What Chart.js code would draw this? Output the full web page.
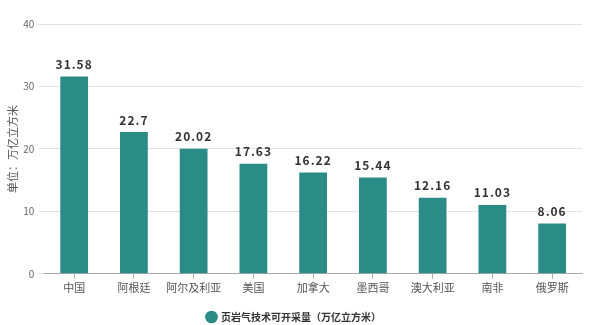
<!DOCTYPE html>
<html>
<head>
<meta charset="utf-8">
<script src="https://cdn.jsdelivr.net/npm/chart.js@4"></script>
<style>
  html, body { margin: 0; padding: 0; background: #fff; }
  #wrap { position: relative; width: 600px; height: 325px; }
</style>
</head>
<body>
<div id="wrap"><canvas id="gasChart"></canvas></div>
<script>
const countries = ['中国', '阿根廷', '阿尔及利亚', '美国', '加拿大', '墨西哥', '澳大利亚', '南非', '俄罗斯'];
const reserves = [31.58, 22.7, 20.02, 17.63, 16.22, 15.44, 12.16, 11.03, 8.06];
const reserveLabels = ['31.58', '22.7', '20.02', '17.63', '16.22', '15.44', '12.16', '11.03', '8.06'];
const seriesName = '页岩气技术可开采量（万亿立方米）';
const unitTitle = '单位：万亿立方米';

const barColor = '#2b8c87';
const fontFamily = '"Noto Sans CJK SC", "Noto Sans", sans-serif';

// values above each bar
const valueLabels = {
    id: 'valueLabels',
    afterDatasetsDraw(chart) {
        const { ctx } = chart;
        const meta = chart.getDatasetMeta(0);
        ctx.save();
        ctx.font = 'bold 12px ' + fontFamily;
        ctx.fillStyle = '#333';
        ctx.textAlign = 'center';
        ctx.textBaseline = 'bottom';
        if ('letterSpacing' in ctx) ctx.letterSpacing = '1px';
        meta.data.forEach((bar, i) => {
            ctx.fillText(reserveLabels[i], bar.x, bar.y - 6);
        });
        ctx.restore();
    },
};

new Chart(document.getElementById('gasChart'), {
    type: 'bar',
    data: {
        labels: countries,
        datasets: [{
            label: seriesName,
            data: reserves,
            backgroundColor: barColor,
            borderWidth: 0,
            barPercentage: 0.93,
            categoryPercentage: 0.5,
        }],
    },
    options: {
        responsive: true,
        maintainAspectRatio: false,
        animation: false,
        layout: { padding: { top: 24, right: 18, left: 6, bottom: -7 } },
        scales: {
            x: {
                grid: {
                    display: true,
                    drawOnChartArea: false,
                    drawTicks: true,
                    tickLength: 5,
                    offset: false,
                    color: '#aaa',
                },
                border: { color: '#aaa' },
                ticks: {
                    color: '#555',
                    font: { family: fontFamily, size: 11 },
                    padding: 2,
                    maxRotation: 0,
                },
                afterFit: (scale) => {
                    scale.height += 14;
                },
            },
            y: {
                min: 0,
                max: 40,
                ticks: {
                    stepSize: 10,
                    color: '#666',
                    font: { family: fontFamily, size: 10 },
                    padding: 4,
                },
                grid: {
                    color: '#e2e2e2',
                    drawTicks: true,
                    tickLength: 6,
                },
                border: { display: false },
                title: {
                    display: true,
                    text: unitTitle,
                    color: '#555',
                    font: { family: fontFamily, size: 11 },
                    padding: 0,
                },
            },
        },
        plugins: {
            legend: {
                position: 'bottom',
                labels: {
                    usePointStyle: true,
                    pointStyle: 'circle',
                    boxWidth: 9,
                    boxHeight: 9,
                    color: '#333',
                    padding: 2,
                    font: { family: fontFamily, size: 10, weight: 'bold' },
                },
            },
            tooltip: { enabled: false },
        },
    },
    plugins: [valueLabels],
});
</script>
</body>
</html>
